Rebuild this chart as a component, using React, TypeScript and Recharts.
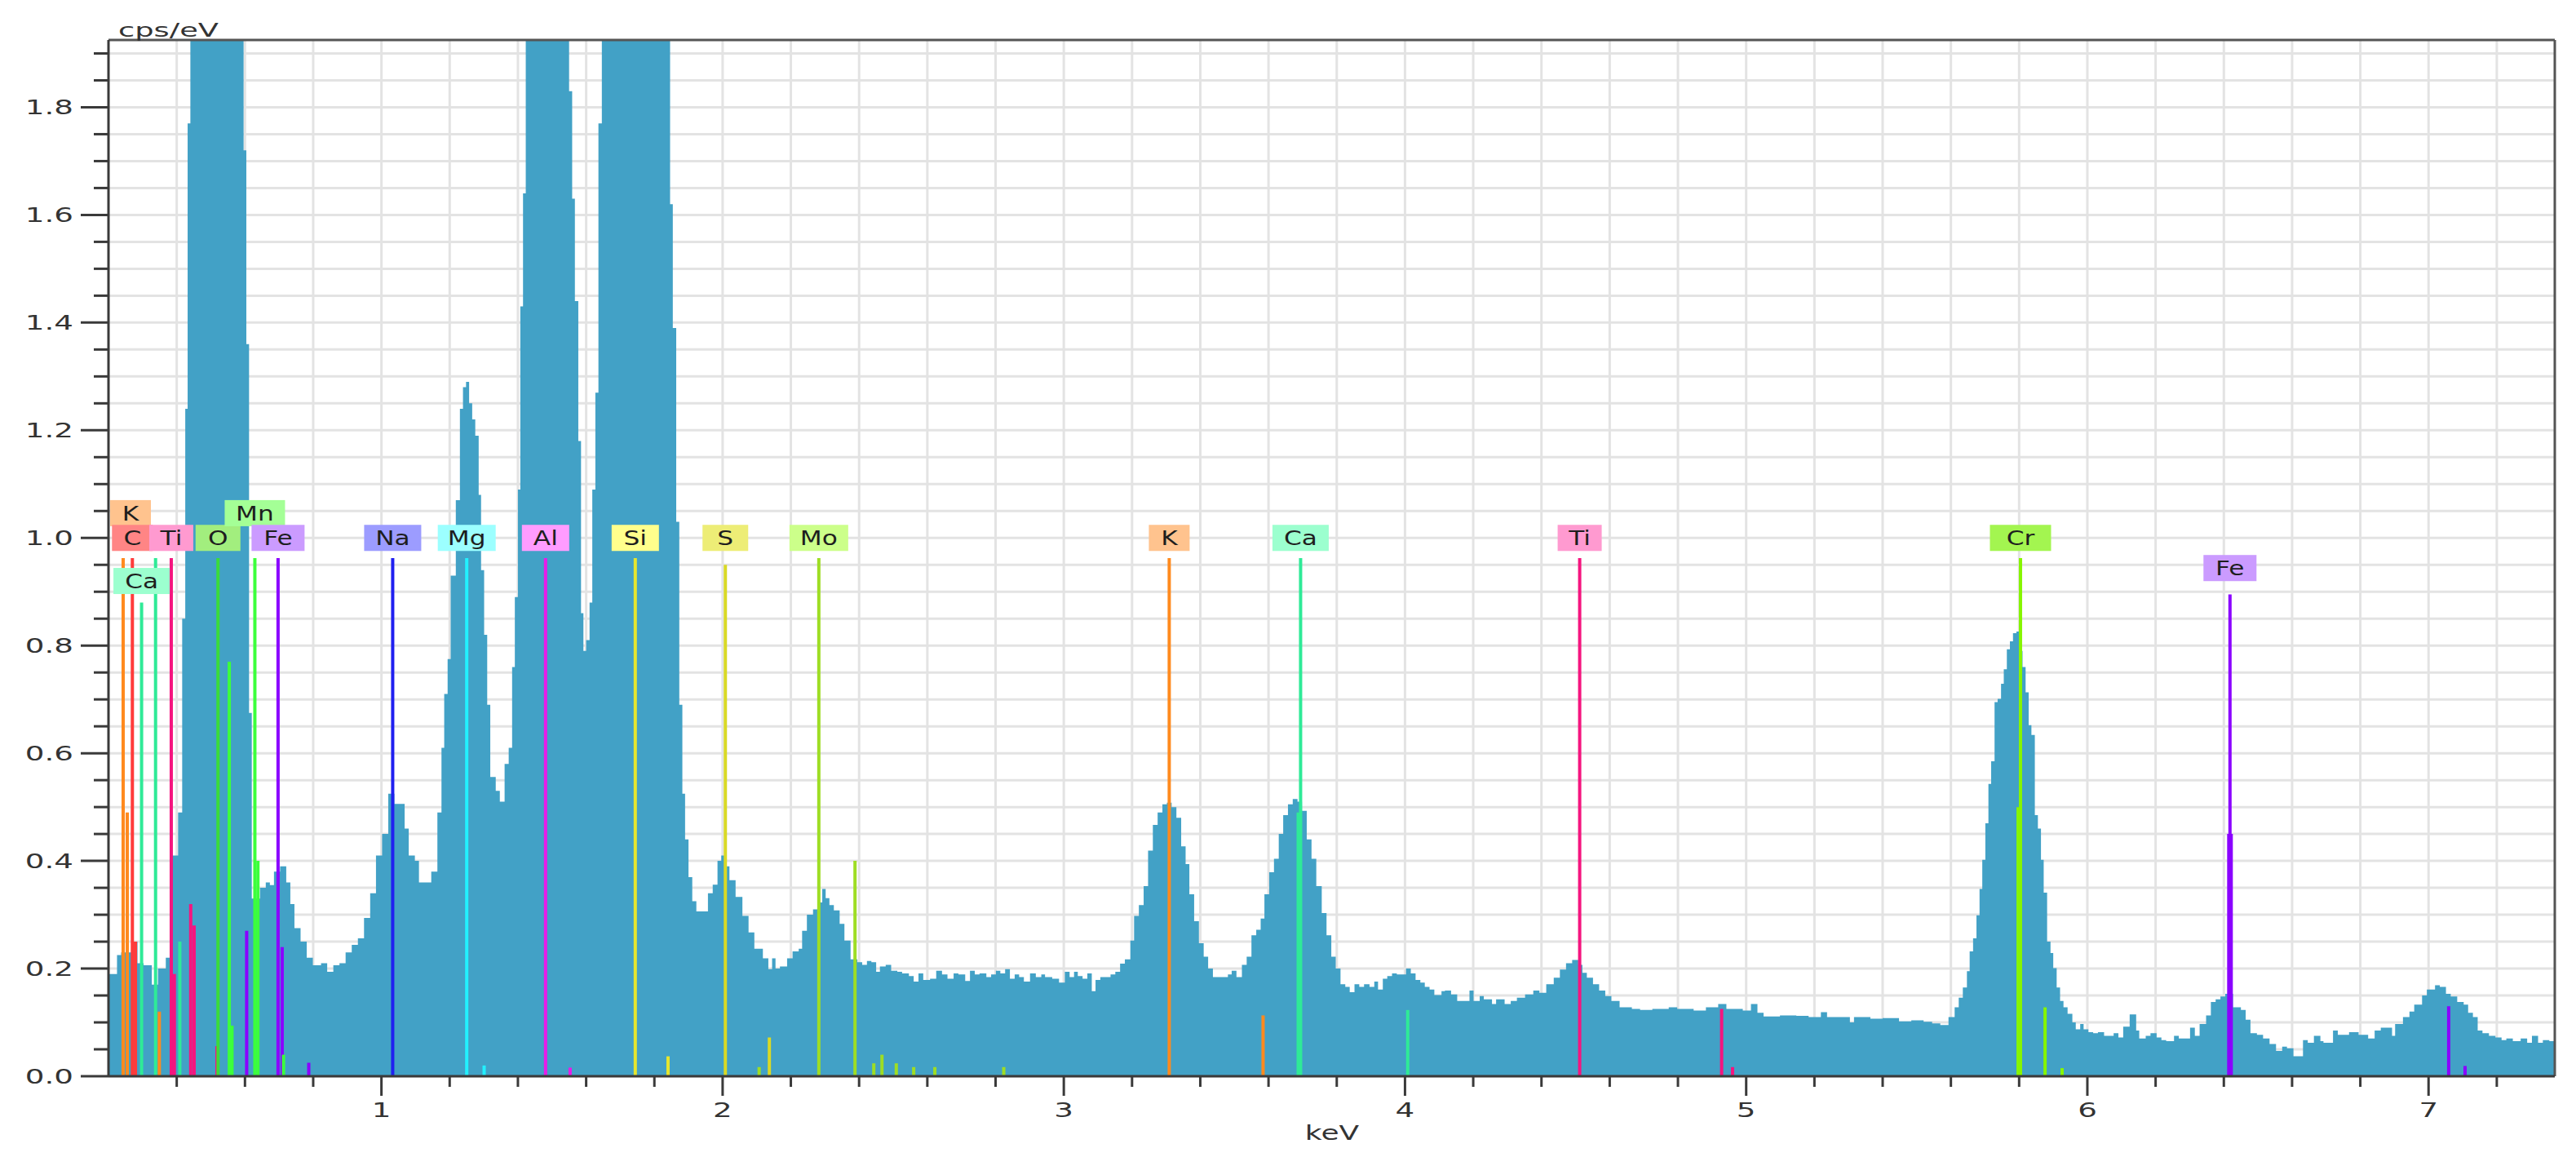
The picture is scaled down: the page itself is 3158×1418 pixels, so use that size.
import React from "react";
import {
  ComposedChart,
  Area,
  XAxis,
  YAxis,
  CartesianGrid,
  ReferenceLine,
  ReferenceDot,
} from "recharts";

// spectrum, [keV, cps/eV] steps
const spectrumLow = [
  [0.2, 0.19], [0.225, 0.225], [0.237, 0.23], [0.267, 0.25], [0.285, 0.21],
  [0.303, 0.206], [0.327, 0.17], [0.345, 0.2], [0.368, 0.22], [0.386, 0.41],
  [0.404, 0.49], [0.416, 0.85], [0.425, 1.24], [0.432, 1.77], [0.44, 2.45],
  [0.47, 3.6], [0.52, 4.7], [0.56, 3.3], [0.596, 1.72], [0.604, 1.36],
  [0.612, 0.675], [0.62, 0.33], [0.644, 0.35], [0.661, 0.36], [0.673, 0.355],
  [0.685, 0.38], [0.703, 0.39], [0.721, 0.36], [0.733, 0.32], [0.745, 0.275],
  [0.763, 0.25], [0.781, 0.22], [0.799, 0.206], [0.823, 0.21], [0.841, 0.194],
  [0.859, 0.206], [0.877, 0.21], [0.895, 0.23], [0.913, 0.244], [0.931, 0.256],
  [0.949, 0.294], [0.967, 0.34], [0.984, 0.41],
];

const spectrumMid = [
  [1.002, 0.45], [1.02, 0.525], [1.038, 0.506], [1.068, 0.46], [1.08, 0.41],
  [1.098, 0.4], [1.11, 0.36], [1.146, 0.38], [1.164, 0.49], [1.176, 0.61],
  [1.184, 0.71], [1.194, 0.775], [1.203, 0.93], [1.218, 1.07], [1.23, 1.24],
  [1.239, 1.28], [1.248, 1.29], [1.257, 1.25], [1.266, 1.22], [1.275, 1.19],
  [1.285, 1.08], [1.292, 0.94], [1.301, 0.82], [1.31, 0.69], [1.319, 0.556],
  [1.335, 0.53], [1.347, 0.51], [1.361, 0.58], [1.373, 0.61], [1.383, 0.76],
  [1.391, 0.89], [1.4, 1.09], [1.407, 1.43], [1.415, 1.64], [1.423, 2.3],
  [1.46, 3.4], [1.5, 3.0], [1.55, 1.83], [1.559, 1.63], [1.567, 1.44],
  [1.577, 1.18], [1.585, 0.86], [1.592, 0.79], [1.6, 0.81], [1.61, 0.88],
  [1.618, 1.09], [1.627, 1.27], [1.636, 1.77], [1.646, 2.6], [1.7, 4.1],
  [1.76, 3.7], [1.846, 1.62], [1.854, 1.39], [1.864, 1.03], [1.873, 0.69],
  [1.882, 0.525], [1.89, 0.44], [1.9, 0.37], [1.911, 0.325], [1.923, 0.306],
  [1.957, 0.34], [1.971, 0.356], [1.985, 0.4], [1.996, 0.41], [2.01, 0.39],
];

const spectrumHigh = [
  [2.02, 0.364], [2.038, 0.333], [2.058, 0.298], [2.076, 0.267], [2.093, 0.237],
  [2.118, 0.219], [2.134, 0.199], [2.145, 0.219], [2.155, 0.2], [2.168, 0.204],
  [2.189, 0.219], [2.205, 0.232], [2.223, 0.237], [2.233, 0.27], [2.247, 0.3],
  [2.265, 0.31], [2.278, 0.323], [2.292, 0.348], [2.302, 0.331], [2.313, 0.318],
  [2.326, 0.308], [2.343, 0.283], [2.357, 0.252], [2.375, 0.217], [2.395, 0.212],
  [2.409, 0.207], [2.423, 0.214], [2.436, 0.212], [2.45, 0.194], [2.461, 0.204],
  [2.478, 0.207], [2.494, 0.196], [2.512, 0.194], [2.526, 0.191], [2.546, 0.186],
  [2.56, 0.176], [2.574, 0.191], [2.588, 0.179], [2.608, 0.181], [2.626, 0.196],
  [2.643, 0.189], [2.659, 0.181], [2.677, 0.191], [2.691, 0.189], [2.711, 0.177],
  [2.725, 0.196], [2.739, 0.189], [2.753, 0.191], [2.773, 0.184], [2.787, 0.189],
  [2.801, 0.196], [2.814, 0.191], [2.828, 0.199], [2.842, 0.181], [2.856, 0.189],
  [2.869, 0.184], [2.883, 0.176], [2.901, 0.191], [2.918, 0.184], [2.934, 0.189],
  [2.945, 0.184], [2.966, 0.181], [2.986, 0.174], [3.003, 0.194], [3.017, 0.184],
  [3.03, 0.194], [3.041, 0.186], [3.055, 0.181], [3.069, 0.191], [3.082, 0.158],
  [3.093, 0.179], [3.107, 0.184], [3.124, 0.184], [3.137, 0.189], [3.151, 0.194],
  [3.165, 0.209], [3.179, 0.217], [3.195, 0.252], [3.206, 0.298], [3.22, 0.318],
  [3.234, 0.353], [3.247, 0.419], [3.261, 0.467], [3.275, 0.49], [3.289, 0.505],
  [3.302, 0.508], [3.316, 0.5], [3.33, 0.48], [3.344, 0.427], [3.357, 0.394],
  [3.368, 0.338], [3.382, 0.288], [3.396, 0.247], [3.41, 0.222], [3.423, 0.2],
  [3.437, 0.184], [3.481, 0.189], [3.492, 0.196], [3.506, 0.184], [3.522, 0.207],
  [3.536, 0.222], [3.55, 0.262], [3.564, 0.272], [3.577, 0.293], [3.588, 0.338],
  [3.602, 0.379], [3.616, 0.404], [3.63, 0.45], [3.643, 0.485], [3.657, 0.505],
  [3.671, 0.515], [3.685, 0.51], [3.698, 0.493], [3.712, 0.44], [3.726, 0.404],
  [3.74, 0.353], [3.756, 0.303], [3.77, 0.262], [3.784, 0.222], [3.797, 0.2],
  [3.811, 0.171], [3.825, 0.166], [3.838, 0.156], [3.852, 0.171], [3.866, 0.166],
  [3.88, 0.171], [3.896, 0.166], [3.91, 0.176], [3.921, 0.161], [3.935, 0.181],
  [3.948, 0.186], [3.962, 0.191], [3.976, 0.189], [4.003, 0.2], [4.017, 0.191],
  [4.031, 0.179], [4.045, 0.174], [4.058, 0.166], [4.072, 0.161], [4.086, 0.151],
  [4.107, 0.158],
];

const spectrumTail = [
  [4.117, 0.159], [4.135, 0.152], [4.153, 0.14], [4.189, 0.159], [4.201, 0.14],
  [4.219, 0.149], [4.231, 0.143], [4.255, 0.134], [4.267, 0.143], [4.292, 0.134],
  [4.31, 0.14], [4.328, 0.146], [4.352, 0.152], [4.376, 0.159], [4.394, 0.155],
  [4.414, 0.171], [4.436, 0.183], [4.454, 0.198], [4.472, 0.21], [4.49, 0.216],
  [4.508, 0.207], [4.52, 0.192], [4.533, 0.183], [4.551, 0.171], [4.569, 0.159],
  [4.587, 0.149], [4.605, 0.14], [4.629, 0.128], [4.665, 0.125], [4.689, 0.123],
  [4.725, 0.125], [4.773, 0.128], [4.798, 0.125], [4.846, 0.122], [4.882, 0.128],
  [4.918, 0.134], [4.942, 0.125], [4.99, 0.122], [5.014, 0.134], [5.033, 0.118],
  [5.051, 0.111], [5.099, 0.113], [5.147, 0.112], [5.183, 0.11], [5.219, 0.119],
  [5.237, 0.11], [5.304, 0.1], [5.316, 0.11], [5.364, 0.107], [5.4, 0.108],
  [5.448, 0.102], [5.484, 0.104], [5.52, 0.101], [5.545, 0.098], [5.569, 0.095],
  [5.593, 0.11], [5.611, 0.128], [5.623, 0.146], [5.635, 0.165], [5.647, 0.195],
  [5.655, 0.232], [5.665, 0.256], [5.675, 0.299], [5.684, 0.348], [5.692, 0.402],
  [5.701, 0.47], [5.71, 0.543], [5.718, 0.585], [5.728, 0.695], [5.737, 0.701],
  [5.747, 0.729], [5.755, 0.756], [5.764, 0.793], [5.773, 0.808], [5.782, 0.823],
  [5.792, 0.826], [5.8, 0.79], [5.81, 0.76], [5.819, 0.713], [5.828, 0.652],
  [5.836, 0.634], [5.846, 0.485], [5.855, 0.46], [5.864, 0.402], [5.872, 0.341],
  [5.882, 0.25], [5.892, 0.229], [5.9, 0.201], [5.91, 0.165], [5.92, 0.14],
  [5.93, 0.128], [5.942, 0.116], [5.956, 0.1], [5.966, 0.087], [5.979, 0.097],
  [5.989, 0.087], [6.003, 0.082], [6.017, 0.08], [6.031, 0.082], [6.049, 0.075],
  [6.077, 0.08], [6.091, 0.072], [6.105, 0.092], [6.124, 0.115], [6.143, 0.085],
  [6.152, 0.07], [6.171, 0.075], [6.185, 0.08], [6.203, 0.072], [6.217, 0.067],
  [6.231, 0.065], [6.254, 0.075], [6.268, 0.07], [6.301, 0.09], [6.315, 0.075],
  [6.329, 0.097], [6.348, 0.113], [6.362, 0.138], [6.376, 0.143], [6.39, 0.148],
  [6.404, 0.153], [6.427, 0.128], [6.45, 0.123], [6.464, 0.105], [6.478, 0.08],
  [6.497, 0.077], [6.515, 0.07], [6.534, 0.06], [6.553, 0.047], [6.571, 0.055],
  [6.585, 0.052], [6.604, 0.037], [6.632, 0.067], [6.646, 0.062], [6.664, 0.075],
  [6.683, 0.065], [6.692, 0.062], [6.72, 0.085], [6.734, 0.077], [6.767, 0.082],
  [6.795, 0.077], [6.823, 0.07], [6.842, 0.085], [6.86, 0.09], [6.893, 0.075],
  [6.902, 0.097], [6.925, 0.11], [6.944, 0.12], [6.958, 0.133], [6.981, 0.15],
  [6.995, 0.161], [7.019, 0.169], [7.033, 0.166], [7.051, 0.153], [7.065, 0.148],
  [7.084, 0.138], [7.103, 0.133], [7.116, 0.118], [7.13, 0.11], [7.144, 0.085],
  [7.158, 0.08], [7.177, 0.075], [7.196, 0.072], [7.214, 0.067], [7.228, 0.07],
  [7.247, 0.065], [7.27, 0.07], [7.289, 0.062], [7.303, 0.075], [7.321, 0.062],
  [7.335, 0.067], [7.354, 0.065], [7.37, 0.065],
];

// element marker lines: [element, keV, height]
const markerLines: [string, number, number][] = [
  ["K", 0.243, 0.9625], ["K", 0.255, 0.49], ["C", 0.27, 0.9625], ["C", 0.279, 0.25],
  ["Ca", 0.297, 0.88], ["Ca", 0.338, 0.9625], ["K", 0.349, 0.12], ["Ti", 0.384, 0.9625],
  ["Ti", 0.393, 0.19], ["Ca", 0.409, 0.25], ["Ti", 0.441, 0.32], ["Ti", 0.451, 0.28],
  ["Ti", 0.518, 0.056], ["O", 0.521, 0.9625], ["Mn", 0.554, 0.77], ["Mn", 0.562, 0.094],
  ["Fe", 0.605, 0.27], ["Mn", 0.629, 0.9625], ["Mn", 0.638, 0.4], ["Fe", 0.697, 0.9625],
  ["Fe", 0.709, 0.24], ["Mn", 0.713, 0.04], ["Fe", 0.787, 0.025], ["Na", 1.033, 0.9625],
  ["Mg", 1.25, 0.9625], ["Mg", 1.301, 0.02], ["Al", 1.481, 0.9625], ["Al", 1.553, 0.016],
  ["Si", 1.744, 0.9625], ["Si", 1.84, 0.037], ["S", 2.008, 0.95], ["Mo", 2.107, 0.017],
  ["S", 2.137, 0.072], ["Mo", 2.282, 0.9625], ["Mo", 2.388, 0.4], ["Mo", 2.443, 0.024],
  ["Mo", 2.467, 0.04], ["Mo", 2.509, 0.024], ["Mo", 2.56, 0.017], ["Mo", 2.622, 0.017],
  ["Mo", 2.824, 0.017], ["K", 3.309, 0.9625], ["K", 3.584, 0.113], ["Ca", 3.687, 0.49],
  ["Ca", 3.694, 0.9625], ["Ca", 4.008, 0.123], ["Ti", 4.512, 0.9625], ["Ti", 4.928, 0.125],
  ["Ti", 4.96, 0.017], ["Cr", 5.797, 0.5], ["Cr", 5.804, 0.9625], ["Cr", 5.876, 0.128],
  ["Cr", 5.926, 0.015], ["Fe", 6.418, 0.895], ["Fe", 6.418, 0.45], ["Fe", 7.059, 0.13],
  ["Fe", 7.107, 0.019],
];

// label boxes: [element, keV, level]
const markerLabels: [string, number, number][] = [
  ["K", 0.243, 1.046], ["C", 0.27, 1.0], ["Ti", 0.384, 1.0], ["Ca", 0.297, 0.92],
  ["O", 0.521, 1.0], ["Mn", 0.629, 1.046], ["Fe", 0.697, 1.0], ["Na", 1.033, 1.0],
  ["Mg", 1.25, 1.0], ["Al", 1.481, 1.0], ["Si", 1.744, 1.0], ["S", 2.008, 1.0],
  ["Mo", 2.282, 1.0], ["K", 3.309, 1.0], ["Ca", 3.694, 1.0], ["Ti", 4.512, 1.0],
  ["Cr", 5.804, 1.0], ["Fe", 6.418, 0.944],
];

const xTicks = [
  0.4, 0.6, 0.8, 1, 1.2, 1.4, 1.6, 1.8, 2, 2.2, 2.4, 2.6, 2.8, 3, 3.2, 3.4, 3.6, 3.8,
  4, 4.2, 4.4, 4.6, 4.8, 5, 5.2, 5.4, 5.6, 5.8, 6, 6.2, 6.4, 6.6, 6.8, 7, 7.2,
];
const yTicks = [
  0, 0.05, 0.1, 0.15, 0.2, 0.25, 0.3, 0.35, 0.4, 0.45, 0.5, 0.55, 0.6, 0.65, 0.7,
  0.75, 0.8, 0.85, 0.9, 0.95, 1, 1.05, 1.1, 1.15, 1.2, 1.25, 1.3, 1.35, 1.4, 1.45,
  1.5, 1.55, 1.6, 1.65, 1.7, 1.75, 1.8, 1.85, 1.9,
];

const lineColors: Record<string, string> = {
  K: "#FF8A1E", C: "#FF3B3B", Ti: "#F5157F", Ca: "#2FEA97", O: "#3ADB3A",
  Mn: "#3CFF3C", Fe: "#8A00FF", Na: "#2020F0", Mg: "#22F0FF", Al: "#E81CE8",
  Si: "#E6E62E", S: "#D9D925", Mo: "#9EDD24", Cr: "#86F500",
};
const boxColors: Record<string, string> = {
  K: "#FFC38E", C: "#FF8585", Ti: "#FF9AD0", Ca: "#9CFFCF", O: "#A2EE7E",
  Mn: "#A4FF96", Fe: "#CB9BFF", Na: "#9C9CFF", Mg: "#9CFFFF", Al: "#FF9CFF",
  Si: "#FFFF8C", S: "#EDED76", Mo: "#CCFF8A", Cr: "#A3F550",
};
const boxWidths: Record<string, number> = {
  K: 50, C: 50, Ti: 54, Ca: 69, O: 55, Mn: 74, Fe: 65, Na: 70, Mg: 71, Al: 58,
  Si: 58, S: 56, Mo: 72, Cr: 75,
};

const W = 3142;
const H = 1400;
const PLOT_LEFT = 125;
const FONT = "DejaVu Sans";
const AXIS = "#3a3a3a";

const data = [...spectrumLow, ...spectrumMid, ...spectrumHigh, ...spectrumTail].map(
  ([e, c]) => ({ e, c })
);

const XTick = ({ x, y, payload }: any) => {
  const v = payload.value;
  const major = Math.abs(v - Math.round(v)) < 1e-6;
  return (
    <g>
      <line x1={x} x2={x} y1={y} y2={y + (major ? 24 : 13)} stroke={AXIS} strokeWidth={3} />
      {major && (
        <text
          transform={`translate(${x},${y + 50}) scale(1.55,1)`}
          textAnchor="middle"
          fontFamily={FONT}
          fontSize={24}
          fill="#333"
        >
          {Math.round(v)}
        </text>
      )}
    </g>
  );
};

const YTick = ({ x, y, payload }: any) => {
  const v = payload.value;
  const major = Math.abs(v / 0.2 - Math.round(v / 0.2)) < 1e-6;
  return (
    <g>
      <line x1={x - (major ? 34 : 18)} x2={x} y1={y} y2={y} stroke={AXIS} strokeWidth={3} />
      {major && (
        <text
          transform={`translate(${x - 43},${y + 9}) scale(1.55,1)`}
          textAnchor="end"
          fontFamily={FONT}
          fontSize={24}
          fill="#333"
        >
          {v.toFixed(1)}
        </text>
      )}
    </g>
  );
};

const YTitle = () => (
  <text transform="translate(137,37) scale(1.6,1)" fontFamily={FONT} fontSize={23} fill="#333">
    cps/eV
  </text>
);

const XTitle = () => (
  <text
    transform="translate(1625,1389) scale(1.5,1)"
    textAnchor="middle"
    fontFamily={FONT}
    fontSize={24}
    fill="#333"
  >
    keV
  </text>
);

const LabelBox = ({ cx, cy, name }: any) => {
  if (cx == null || cy == null) return null;
  const w = boxWidths[name];
  const left = Math.max(cx - w / 2, PLOT_LEFT + 2);
  return (
    <g>
      <rect x={left} y={cy - 16} width={w} height={32} fill={boxColors[name]} />
      <text
        transform={`translate(${left + w / 2},${cy + 9}) scale(1.3,1)`}
        textAnchor="middle"
        fontFamily={FONT}
        fontSize={24}
        fill="#1e1e1e"
      >
        {name}
      </text>
    </g>
  );
};

const isThick = (m: [string, number, number]) =>
  markerLines.some((o) => o[0] === m[0] && o[1] === m[1] && o[2] > m[2]);

const App = () => {
  return (
    <div style={{ width: W, height: H, background: "#fff" }}>
      <ComposedChart
        width={W}
        height={H}
        data={data}
        margin={{ top: 41, right: 18, bottom: 0, left: 0 }}
      >
        <CartesianGrid stroke="#E3E3E3" strokeWidth={3} syncWithTicks />
        <XAxis
          dataKey="e"
          type="number"
          domain={[0.2, 7.37]}
          allowDataOverflow
          ticks={xTicks}
          interval={0}
          height={89}
          tickSize={0}
          tickMargin={0}
          tickLine={false}
          tick={<XTick />}
          axisLine={{ stroke: AXIS, strokeWidth: 3 }}
          label={<XTitle />}
        />
        <YAxis
          type="number"
          domain={[0, 1.925]}
          allowDataOverflow
          ticks={yTicks}
          interval={0}
          width={125}
          tickSize={0}
          tickMargin={0}
          tickLine={false}
          tick={<YTick />}
          axisLine={{ stroke: AXIS, strokeWidth: 3 }}
          label={<YTitle />}
        />
        <Area
          dataKey="c"
          type="stepAfter"
          fill="#42A1C6"
          fillOpacity={1}
          stroke="none"
          isAnimationActive={false}
        />
        {markerLines.map((m, i) => (
          <ReferenceLine
            key={"m" + i}
            segment={[
              { x: m[1], y: 0 },
              { x: m[1], y: m[2] },
            ]}
            stroke={lineColors[m[0]]}
            strokeWidth={isThick(m) ? 7 : 4}
          />
        ))}
        {markerLabels.map((l, i) => (
          <ReferenceDot
            key={"l" + i}
            x={l[1]}
            y={l[2]}
            r={1}
            shape={(p: any) => <LabelBox {...p} name={l[0]} />}
          />
        ))}
        <ReferenceLine y={1.925} stroke="#555" strokeWidth={3} />
        <ReferenceLine x={7.37} stroke="#555" strokeWidth={3} />
      </ComposedChart>
    </div>
  );
};

export default App;
